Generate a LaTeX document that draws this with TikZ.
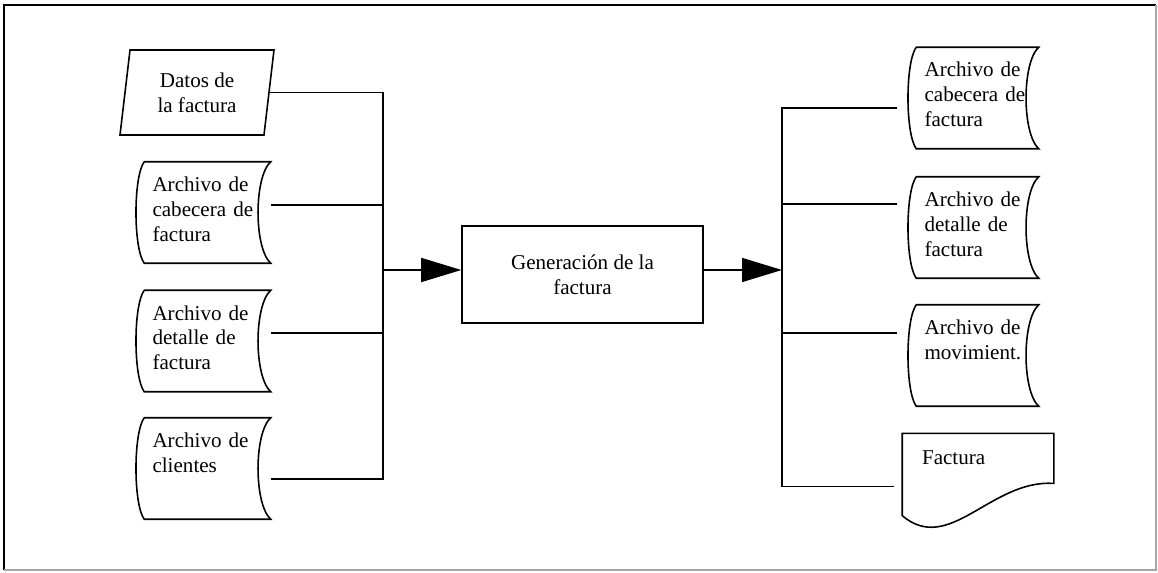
\documentclass[tikz,border=0pt]{standalone}
\usepackage{fontspec}
\setmainfont{Liberation Serif}
\usetikzlibrary{arrows.meta,shapes.geometric}

\begin{document}
\begin{tikzpicture}[
  x=0.02cm, y=-0.02cm, line width=0.9pt,
  font=\fontsize{12}{14.2}\selectfont,
  archivo/.style={text width=#1,inner xsep=0.15cm,inner ysep=0pt,align=left,text height=16.5pt,text depth=40.4pt},
  archivo/.default=2.2cm,
  entrada/.style={draw,trapezium,trapezium left angle=77,trapezium right angle=103,trapezium stretches body,minimum width=3.08cm,minimum height=1.7cm,align=center,inner sep=1pt},
  proceso/.style={draw,minimum width=4.82cm,minimum height=1.94cm,align=center},
  documento/.style={text width=2.24cm,inner xsep=0.38cm,inner ysep=0pt,align=left,text height=17pt,text depth=28.9pt},
  flecha/.style={-{Triangle[length=0.8cm,width=0.48cm]}},
]
\useasboundingbox (0,0) rectangle (1158,573);
% frame
\draw[line width=1.5pt] (4,570) -- (4,5) -- (1156,5);
\draw[gray!70,line width=0.6pt] (1156,5) -- (1156,570) -- (4,570);

% ---- inputs ----
\node[entrada] (datos) at (197,92.5) {Datos de\\la factura};
\node[archivo] (cab) at (207.5,212.5) {Archivo de\\cabecera de\\factura};
\node[archivo] (det) at (207.5,341) {Archivo de\\detalle de\\factura};
\node[archivo] (cli) at (207.5,468.5) {Archivo de\\clientes};

% ---- process ----
\node[proceso] (gen) at (582.5,274.5) {Generación de la\\factura};

% ---- outputs ----
\node[archivo=2.12cm] (rcab) at (977.5,98) {Archivo de\\cabecera de\\factura};
\node[archivo=2.12cm] (rdet) at (977.5,227.5) {Archivo de\\detalle de\\factura};
\node[archivo=2.12cm] (rmov) at (977.5,355.5) {Archivo de\\movimient.};
\node[documento] (fac) at (978,474.5) {Factura};

% stored data outlines
\foreach \n in {cab,det,cli,rcab,rdet,rmov}
  \draw (\n.north west) -- (\n.north east)
    .. controls +(-17,15) and +(-17,-15) .. (\n.south east)
    -- (\n.south west)
    .. controls +(-11,-15) and +(-11,15) .. (\n.north west);
\draw (fac.north west) -- (fac.north east) -- ++(0,50)
  .. controls +(-63,-4) and +(47,40) .. (fac.south west) -- cycle;

% buses
\coordinate (bl) at (383,270);
\coordinate (br) at (782,270);
\foreach \n/\s in {datos/0, cab/4.3, det/4.5, cli/-6}
  \draw ([yshift=\s pt]\n.east) -| (bl);
\foreach \n/\s/\g in {rcab/-5.7/11, rdet/13.3/11, rmov/12.8/11, fac/-6.8/4.5}
  \draw[shorten >=\g pt] (br) |- ([yshift=\s pt]\n.west);

\draw[flecha] (bl) -- (bl -| gen.west);
\draw[flecha] (gen.east |- br) -- (br);
\end{tikzpicture}
\end{document}
